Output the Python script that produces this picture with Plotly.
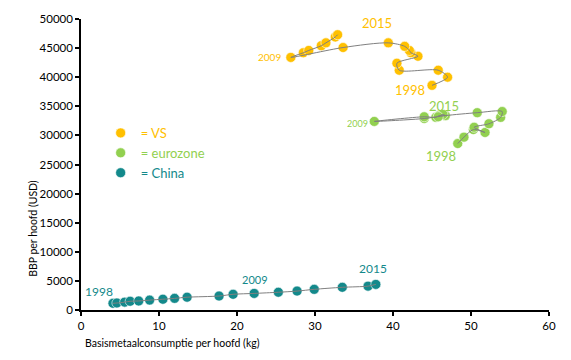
import plotly.graph_objects as go

years = list(range(1998, 2016))

us_x = [45.0, 47.0, 45.8, 40.8, 40.5, 43.2, 42.3, 42.1, 41.5, 39.4, 33.6, 26.9, 28.5, 29.2, 30.8, 31.4, 32.6, 32.9]
us_y = [38600, 40000, 41200, 41200, 42400, 43600, 44200, 44600, 45300, 45900, 45100, 43400, 44200, 44600, 45400, 45900, 46900, 47300]

ez_x = [48.3, 49.1, 50.3, 51.8, 50.4, 52.3, 53.8, 54.0, 50.8, 46.7, 44.0, 37.6, 44.0, 45.5, 45.9, 46.7, 46.4, 45.8]
ez_y = [28600, 29700, 31000, 30500, 31400, 32000, 33100, 34100, 33900, 33400, 32900, 32400, 33200, 33100, 33400, 33400, 33600, 33200]

cn_x = [4.1, 4.6, 5.6, 6.3, 7.4, 8.8, 10.5, 12.0, 13.6, 17.7, 19.5, 22.2, 25.3, 27.7, 29.9, 33.5, 36.8, 37.8]
cn_y = [1150, 1200, 1350, 1500, 1550, 1700, 1850, 2000, 2200, 2400, 2700, 2850, 3050, 3250, 3550, 3900, 4100, 4400]

series_names = ["= VS", "= eurozone", "= China"]
colors = ["#FFC000", "#92D050", "#13898B"]

x_ticks = [0, 10, 20, 30, 40, 50, 60]
y_ticks = [0, 5000, 10000, 15000, 20000, 25000, 30000, 35000, 40000, 45000, 50000]
y_tick_labels = ["0", "5000", "10000", "15000", "20000", "25000", "30000", "35000", "40000", "45000", "50000"]

FONT = "Lato, 'Open Sans', sans-serif"

fig = go.Figure()
data = [(us_x, us_y), (ez_x, ez_y), (cn_x, cn_y)]

for (xs, ys), name, col in zip(data, series_names, colors):
    fig.add_trace(go.Scatter(
        x=xs, y=ys, mode="markers",
        name=f"<span style='color:{col}'>{name}</span>",
        marker=dict(size=10, color=col, line=dict(color="white", width=0.6)),
    ))
for (xs, ys), col in zip(data, colors):
    fig.add_trace(go.Scatter(
        x=xs, y=ys, mode="lines", showlegend=False, hoverinfo="skip",
        line=dict(color="#808080", width=1, shape="spline", smoothing=0.8),
    ))

# year labels: (series index, year, xshift, yshift, size)
label_specs = [
    (0, 2015, 39, 12, 13), (0, 2009, -21, 0, 10), (0, 1998, -22, -5, 13),
    (1, 2015, 6, 11, 13), (1, 2009, -17, -2, 9), (1, 1998, -17, -12, 13),
    (2, 1998, -14, 12, 12), (2, 2009, 1, 14, 11), (2, 2015, -3, 16, 12),
]
for si, yr, dx, dy, sz in label_specs:
    xs, ys = data[si]
    i = years.index(yr)
    fig.add_annotation(x=xs[i], y=ys[i], xref="x", yref="y", text=str(yr),
                       showarrow=False, xshift=dx, yshift=dy,
                       font=dict(size=sz, color=colors[si], family=FONT))

fig.add_annotation(text="Basismetaalconsumptie per hoofd (kg)", xref="paper", yref="paper",
                   x=0.004, y=-0.112, xanchor="left", yanchor="middle", showarrow=False,
                   font=dict(size=10.5, color="#000000", family=FONT))
fig.add_annotation(text="BBP per hoofd (USD)", xref="paper", yref="paper",
                   x=-0.104, y=0.28, xanchor="center", yanchor="middle", showarrow=False,
                   textangle=-90, font=dict(size=10.5, color="#000000", family=FONT))

fig.update_layout(
    width=571, height=360,
    margin=dict(l=81, r=22, t=15, b=50),
    paper_bgcolor="white", plot_bgcolor="white",
    font=dict(family=FONT, size=12, color="#000000"),
    showlegend=True,
    legend=dict(x=0.042, y=0.66, xanchor="left", yanchor="top",
                bgcolor="rgba(0,0,0,0)", font=dict(size=13, family=FONT),
                itemwidth=30, tracegroupgap=0),
    xaxis=dict(range=[0, 60], tickvals=x_ticks, showgrid=False, zeroline=False,
               showline=True, linecolor="black", linewidth=1.5,
               ticks="outside", ticklen=4, tickwidth=1.5, tickcolor="black",
               tickfont=dict(size=11.5, family=FONT, color="#000000")),
    yaxis=dict(range=[0, 50000], tickvals=y_ticks, ticktext=y_tick_labels,
               showgrid=False, zeroline=False,
               showline=True, linecolor="black", linewidth=1.5,
               ticks="outside", ticklen=4, tickwidth=1.5, tickcolor="black",
               tickfont=dict(size=11.5, family=FONT, color="#000000")),
)

fig.write_html("out.html", config={"displayModeBar": False},
               post_script="document.body.style.margin='0';")
